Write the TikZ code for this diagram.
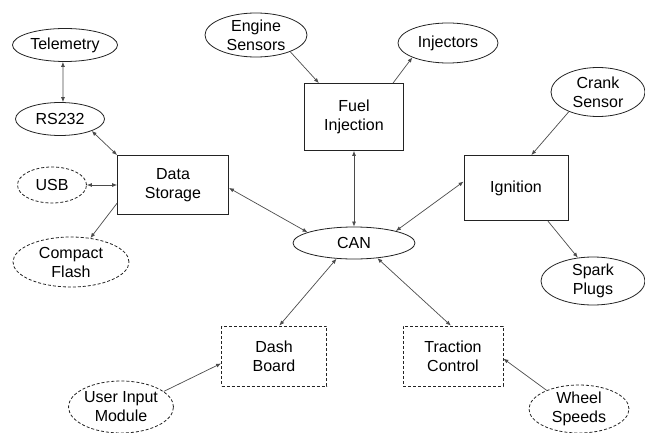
\documentclass[tikz,border=0pt]{standalone}
\usepackage{fontspec}
\setmainfont{Liberation Sans}
\usetikzlibrary{arrows.meta,shapes.geometric}
\definecolor{lineGray}{RGB}{75,75,75}
\definecolor{edgeGray}{RGB}{35,35,35}
\tikzset{
  box/.style={rectangle, draw=edgeGray, line width=0.8pt, align=center, inner sep=0pt,
              font=\fontsize{16}{19}\selectfont},
  dashbox/.style={box, dash pattern=on 3pt off 2pt},
  oval/.style={ellipse, draw=edgeGray, line width=0.8pt, align=center, inner xsep=0pt, inner ysep=-3pt,
              font=\fontsize{16}{19}\selectfont},
  dashoval/.style={oval, dash pattern=on 3pt off 2pt},
  arrow/.style={-{Latex[length=5pt,width=4pt]}, line width=0.7pt, draw=lineGray},
  biarrow/.style={arrow, {Latex[length=5pt,width=4pt]}-{Latex[length=5pt,width=4pt]}}
}
\begin{document}
\begin{tikzpicture}[x=1pt, y=-1pt]
\useasboundingbox (0,0) rectangle (645,433);
% buses and controllers
\node[oval, minimum width=122pt, minimum height=32pt] (can) at (354,243) {CAN};
\node[box, minimum width=111pt, minimum height=59pt] (storage) at (173,185) {Data\\Storage};
\node[box, minimum width=99pt, minimum height=67pt] (fuel) at (354,117) {Fuel\\Injection};
\node[box, minimum width=104pt, minimum height=65pt] (ign) at (516,188) {Ignition};
\node[dashbox, minimum width=105pt, minimum height=60pt] (dash) at (274,356) {Dash\\Board};
\node[dashbox, minimum width=100pt, minimum height=60pt] (tc) at (453,356) {Traction\\Control};
% peripherals
\node[oval, minimum width=105pt, minimum height=33pt] (telem) at (65,45) {Telemetry};
\node[oval, minimum width=89pt, minimum height=33pt] (rs) at (60,119) {RS232};
\node[dashoval, minimum width=69pt, minimum height=36pt] (usb) at (52,185) {USB};
\node[dashoval, minimum width=116pt, minimum height=50pt] (cf) at (71,262) {Compact\\Flash};
\node[oval, minimum width=102pt, minimum height=44pt] (eng) at (256,35) {Engine\\Sensors};
\node[oval, minimum width=100pt, minimum height=40pt] (inj) at (448,43) {Injectors};
\node[oval, minimum width=94pt, minimum height=49pt] (crank) at (598,92) {Crank\\Sensor};
\node[oval, minimum width=104pt, minimum height=48pt] (spark) at (593,281) {Spark\\Plugs};
\node[dashoval, minimum width=105pt, minimum height=52pt] (uim) at (121,407) {User Input\\Module};
\node[dashoval, minimum width=100pt, minimum height=48pt] (ws) at (579,409) {Wheel\\Speeds};
% connectors
\draw[biarrow] (telem.-97) -- (rs.80);
\draw[biarrow] (rs.south east) -- (storage.north west);
\draw[biarrow] (usb) -- (storage);
\draw[arrow] (storage.198) -- (cf.51);
\draw[biarrow] (storage.-3) -- (can.167);
\draw[biarrow] (fuel) -- (can);
\draw[biarrow] (ign.173) -- (can.16);
\draw[arrow] (eng.-26) -- (fuel.136);
\draw[arrow] (fuel.41) -- (inj.202);
\draw[arrow] (crank.214) -- (ign.65);
\draw[arrow] (ign.-46) -- (spark.123);
\draw[biarrow] (can.222) -- (dash.80);
\draw[biarrow] (can.-33) -- (tc.94);
\draw[arrow] (uim.20) -- (dash.188);
\draw[arrow] (ws.150) -- (tc.-3);
\end{tikzpicture}
\end{document}
